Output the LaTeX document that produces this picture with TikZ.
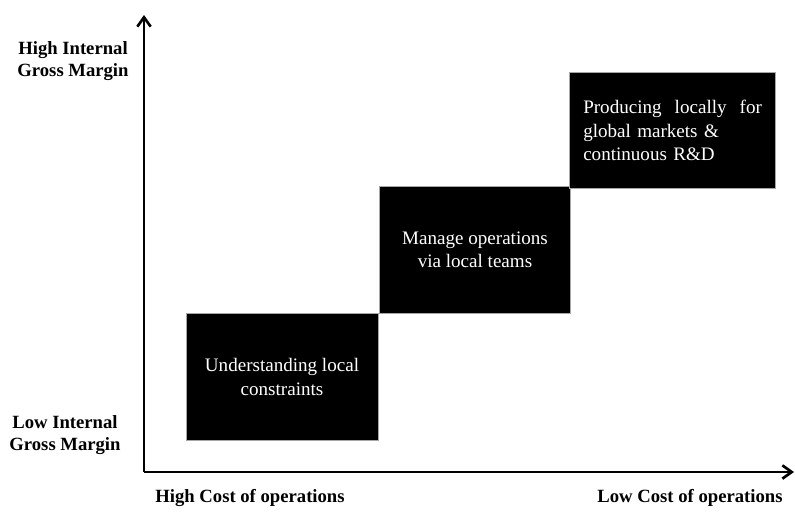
\documentclass[tikz,border=0pt]{standalone}
\usepackage{fontspec}
\setmainfont{Liberation Serif}
\usetikzlibrary{arrows.meta}
\begin{document}
\begin{tikzpicture}[x=0.75pt,y=-0.75pt,
  axis/.style={line width=2pt,-{Straight Barb[length=7pt,width=10pt,line width=2pt]}},
  blk/.style={fill=black,draw=gray!70,line width=0.4pt,anchor=north west,inner sep=0pt},
  btext/.style={text=white,font=\fontsize{14.3}{17.5}\selectfont,align=center},
  lab/.style={font=\fontsize{14}{16.5}\selectfont\bfseries,align=center}]
\useasboundingbox (0,0) rectangle (795,512);
% boxes
\node[blk,minimum width=192*0.75pt,minimum height=127*0.75pt] (b1) at (186,313) {};
\node[blk,minimum width=191*0.75pt,minimum height=127*0.75pt] (b2) at (379,186) {};
\node[blk,minimum width=206*0.75pt,minimum height=116*0.75pt] (b3) at (569,72) {};
\node[btext] (t1) at (282,377) {Understanding local\\constraints};
\node[btext] (t2) at (475,250) {Manage operations\\via local teams};
\node[btext,align=left,text width=134pt,anchor=north west,inner sep=0pt] (t3) at (583,100)
  {\hbox to 134pt{Producing\hfill locally\hfill for}\\global markets \&\\continuous R\&D};
% axes
\coordinate (o) at (144,472);
\coordinate (ytop) at (144,15);
\coordinate (xend) at (794,472);
\draw[axis] (o) -- (ytop);
\draw[axis] (o) -- (xend);
% labels
\node[lab] (hy) at (73,61) {High Internal\\Gross Margin};
\node[lab] (ly) at (65,435) {Low Internal\\Gross Margin};
\node[lab] (hx) at (250,498) {High Cost of operations};
\node[lab] (lx) at (690,498) {Low Cost of operations};
\end{tikzpicture}
\end{document}
